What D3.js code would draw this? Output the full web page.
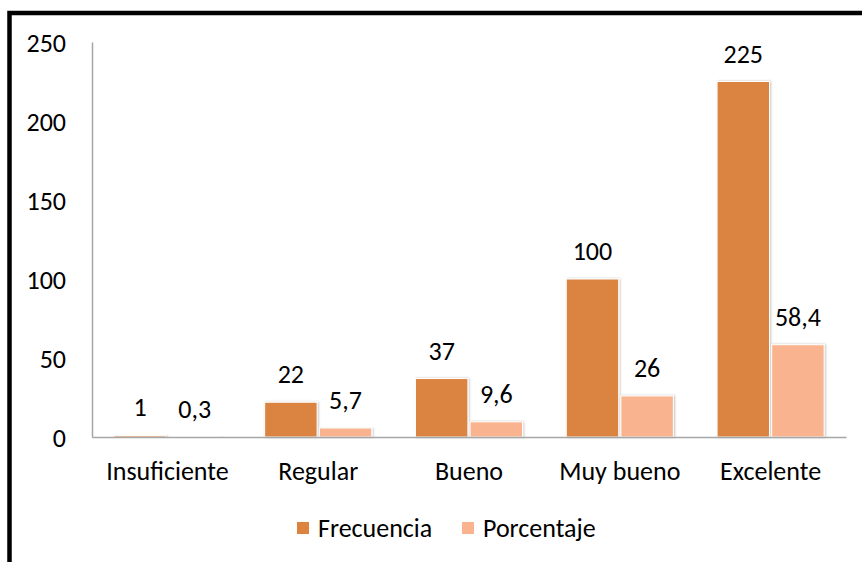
<!DOCTYPE html>
<html>
<head>
<meta charset="utf-8">
<script src="https://cdn.jsdelivr.net/npm/d3@7"></script>
<style>
  html, body { margin: 0; padding: 0; background: #fff; }
  svg { display: block; }
  text { font-family: Carlito, Calibri, Lato, "Open Sans", sans-serif; fill: #000; }
</style>
</head>
<body>
<svg id="chart" width="862" height="562"></svg>
<script>
const categories = ["Insuficiente", "Regular", "Bueno", "Muy bueno", "Excelente"];
const seriesNames = ["Frecuencia", "Porcentaje"];
const frecuencia = [1, 22, 37, 100, 225];
const porcentaje = [0.3, 5.7, 9.6, 26, 58.4];
const yTicks = [0, 50, 100, 150, 200, 250];
const colors = ["#DB833F", "#F9B38E"];

const svg = d3.select("#chart");
const W = 862, H = 562;
const x0 = 92, x1 = 846, yTop = 42, yBot = 437;
const FS = 26;

// frame — only top and left edges fall inside the picture
svg.append("rect").attr("x", 9.5).attr("y", 13).attr("width", W + 20).attr("height", H + 20)
  .attr("fill", "#fff").attr("stroke", "#000").attr("stroke-width", 4.5);

const defs = svg.append("defs");
const f = defs.append("filter").attr("id", "sh").attr("x", "-10%").attr("y", "-10%").attr("width", "130%").attr("height", "130%");
f.append("feDropShadow").attr("dx", 1).attr("dy", 0).attr("stdDeviation", 1).attr("flood-color", "#000").attr("flood-opacity", 0.25);

const x = d3.scaleBand().domain(categories).range([x0, x1]).paddingInner(0).paddingOuter(0);
const xs = d3.scaleBand().domain(seriesNames).range([0, x.bandwidth()]).paddingInner(0.04).paddingOuter(0.4);
const y = d3.scaleLinear().domain([0, 250]).range([yBot, yTop]);

const data = categories.map((c, i) => ({ c, vals: [frecuencia[i], porcentaje[i]] }));
const fmt = v => String(v).replace(".", ",");

// axes
const yAxis = d3.axisLeft(y).tickValues(yTicks).tickSize(0).tickPadding(26);
const gy = svg.append("g").attr("transform", `translate(${x0},0)`).call(yAxis);
gy.select(".domain").attr("stroke", "#a6a6a6").attr("stroke-width", 1.5);
gy.selectAll("text").attr("font-size", FS).attr("dy", "0.35em");

const groups = svg.append("g").selectAll("g").data(data).join("g")
  .attr("transform", d => `translate(${x(d.c)},0)`);

groups.selectAll("rect").data(d => d.vals.map((v, j) => ({ v, s: seriesNames[j], j })))
  .join("rect")
  .attr("x", d => xs(d.s))
  .attr("width", xs.bandwidth())
  .attr("y", d => y(d.v))
  .attr("height", d => yBot - y(d.v))
  .attr("fill", d => colors[d.j])
  .attr("stroke", "#fff").attr("stroke-width", 1)
  .attr("filter", "url(#sh)");

groups.selectAll("text.val").data(d => d.vals.map((v, j) => ({ v, s: seriesNames[j], j })))
  .join("text").attr("class", "val")
  .attr("x", d => xs(d.s) + xs.bandwidth() / 2)
  .attr("y", d => y(d.v) - 19)
  .attr("text-anchor", "middle")
  .attr("font-size", FS)
  .text(d => fmt(d.v));

const xAxis = d3.axisBottom(x).tickSize(0).tickPadding(25);
const gx = svg.append("g").attr("transform", `translate(0,${yBot})`).call(xAxis);
gx.select(".domain").attr("stroke", "#a6a6a6").attr("stroke-width", 1.5);
gx.selectAll("text").attr("font-size", FS);

// legend
const legendX = [297, 462];
const lg = svg.append("g").selectAll("g").data(seriesNames).join("g")
  .attr("transform", (d, i) => `translate(${legendX[i]},522)`);
lg.append("rect").attr("width", 12).attr("height", 12).attr("fill", (d, i) => colors[i]);
lg.append("text").attr("x", 21).attr("y", 6).attr("dy", "0.35em").attr("font-size", FS).text(d => d);
</script>
</body>
</html>
